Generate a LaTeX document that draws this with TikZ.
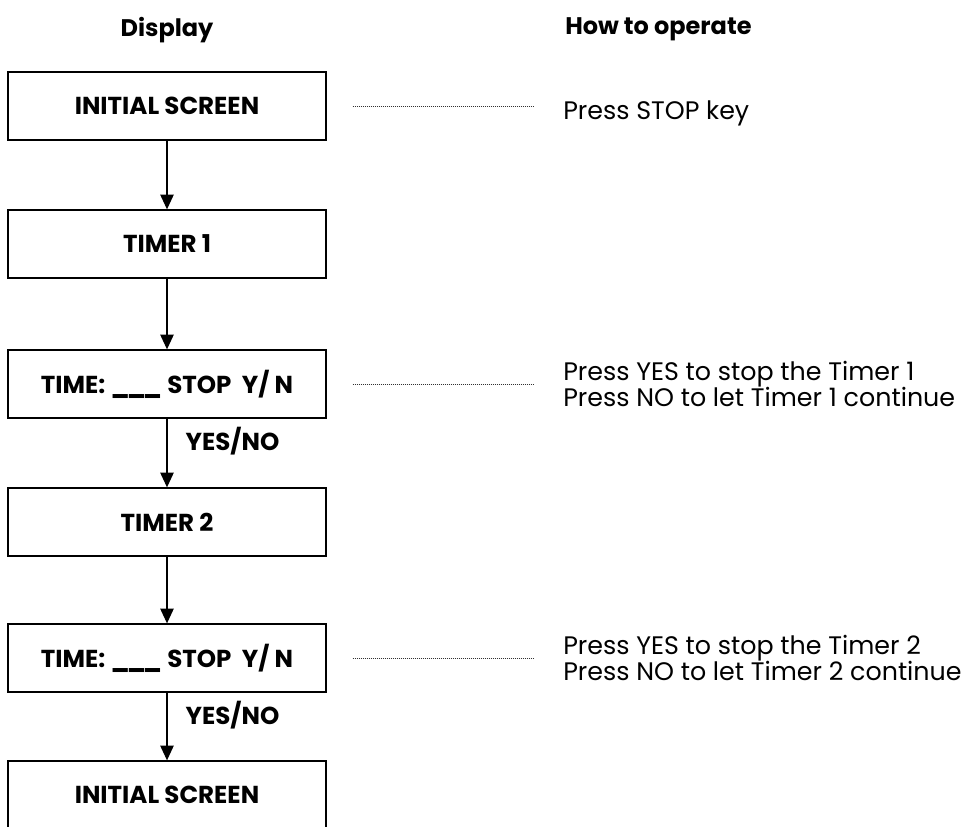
\documentclass[tikz,border=0pt]{standalone}
\usepackage{fontspec}
\setmainfont{Poppins}
\usetikzlibrary{arrows.meta}

\newcommand{\blankline}{\_\kern-0.12em\_\kern-0.12em\_}

\begin{document}
\begin{tikzpicture}[x=0.75pt, y=-0.75pt,
  screen/.style={draw, line width=1pt, minimum width=238.5pt, minimum height=51pt, inner sep=0pt, font=\fontsize{18.4}{20}\selectfont\bfseries},
  hint/.style={anchor=west, inner sep=0pt, align=left, font=\fontsize{19}{19.5}\selectfont},
  head/.style={inner sep=0pt, font=\fontsize{18}{20}\selectfont\bfseries},
  answer/.style={anchor=west, inner sep=0pt, xshift=13.5pt, font=\fontsize{18.4}{20}\selectfont\bfseries},
  flow/.style={line width=1pt, -{Triangle[width=10pt,length=11pt]}},
  guide/.style={line width=0.7pt, dash pattern=on 0.6pt off 0.9pt, black!80}]
\useasboundingbox (0,0) rectangle (969,826);
\node[head] (hd) at (167,30) {Display};
\node[head, anchor=west] (ho) at (565,29) {How to operate};
\node[screen] (s1) at (167,106) {INITIAL SCREEN};
\node[screen] (s2) at (167,244) {TIMER 1};
\node[screen] (s3) at (167,384) {TIME: \blankline\ STOP\ \ Y/ N};
\node[screen] (s4) at (167,522) {TIMER 2};
\node[screen] (s5) at (167,658) {TIME: \blankline\ STOP\ \ Y/ N};
\node[screen] (s6) at (167,795) {INITIAL SCREEN};
\node[hint] (t1) at (563,113) {Press STOP key};
\node[hint] (t3) at (563,384) {Press YES to stop the Timer 1\\Press NO to let Timer 1 continue};
\node[hint] (t5) at (563,658) {Press YES to stop the Timer 2\\Press NO to let Timer 2 continue};
\draw[flow] (s1) -- (s2);
\draw[flow] (s2) -- (s3);
\draw[flow] (s3) -- node[answer, pos=0.32] (a3) {YES/NO} (s4);
\draw[flow] (s4) -- (s5);
\draw[flow] (s5) -- node[answer, pos=0.33] (a5) {YES/NO} (s6);
\coordinate (d1) at (t1.west |- s1.east);
\coordinate (d3) at (t3.west |- s3.east);
\coordinate (d5) at (t5.west |- s5.east);
\draw[guide] ([xshift=19.5pt]s1.east) -- ([xshift=-22.5pt]d1);
\draw[guide] ([xshift=19.5pt]s3.east) -- ([xshift=-22.5pt]d3);
\draw[guide] ([xshift=19.5pt]s5.east) -- ([xshift=-22.5pt]d5);
\end{tikzpicture}
\end{document}
